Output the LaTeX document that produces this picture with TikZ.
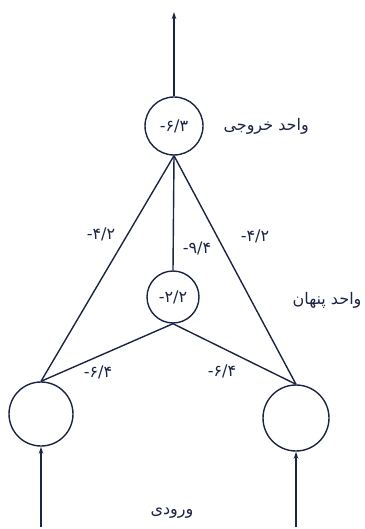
\documentclass[tikz,border=0pt]{standalone}
\usepackage{fontspec}
\setmainfont{DejaVu Sans}
\newfontfamily\fafont[Script=Arabic]{DejaVu Sans}
\newfontfamily\numfont{DejaVu Sans}
\TeXXeTstate=1
\usetikzlibrary{arrows.meta}
\definecolor{ink}{RGB}{28,36,70}

\begin{document}
\begin{tikzpicture}[x=1pt, y=-1pt,
        every node/.style={text=ink},
        unit/.style={circle, draw=ink, line width=1.4pt, inner sep=0pt},
        wire/.style={draw=ink, line width=1.4pt},
        arr/.style={-{Stealth[length=7pt, width=4.5pt]}, ink, line width=1.2pt},
        wt/.style={font=\numfont\fontsize{16}{16}\selectfont},
        lbl/.style={font=\fafont\fontsize{16}{16}\selectfont}
    ]
        \useasboundingbox (0,0) rectangle (364,529);

        \node[unit, minimum size=58pt, wt] (out) at (174,126) {-۶/۳};
        \node[unit, minimum size=52pt, wt] (hid) at (173,297) {-۲/۲};
        \node[unit, minimum size=64pt] (inL) at (41,414) {};
        \node[unit, minimum size=66pt] (inR) at (296,418) {};

        \coordinate (top) at (174,12);
        \coordinate (srcL) at (41,527);
        \coordinate (srcR) at (296,527);

        \draw[wire] (out.south) -- (inL.north);
        \draw[wire] (out.south) -- (hid.north);
        \draw[wire] (out.south) -- (inR.north);
        \draw[wire] (hid.south) -- (inL.north);
        \draw[wire] (hid.south) -- (inR.north);

        \draw[arr] (out) -- (top);
        \draw[arr] (srcL) -- (inL);
        \draw[arr] (srcR) -- (inR);

        % weights
        \node[wt] (wOL) at (101,234) {-۴/۲};
        \node[wt] (wOH) at (197,248) {-۹/۴};
        \node[wt] (wOR) at (255,236) {-۴/۲};
        \node[wt] (wHL) at (98,372) {-۶/۴};
        \node[wt] (wHR) at (222,371) {-۶/۴};

        % layer names
        \node[lbl, anchor=west] (nOut) at (220,126) {\beginR واحد خروجی\endR};
        \node[lbl, anchor=east] (nHid) at (365,300) {\beginR واحد پنهان\endR};
        \node[lbl] (nIn) at (172,513) {\beginR ورودی\endR};
    \end{tikzpicture}
\end{document}
